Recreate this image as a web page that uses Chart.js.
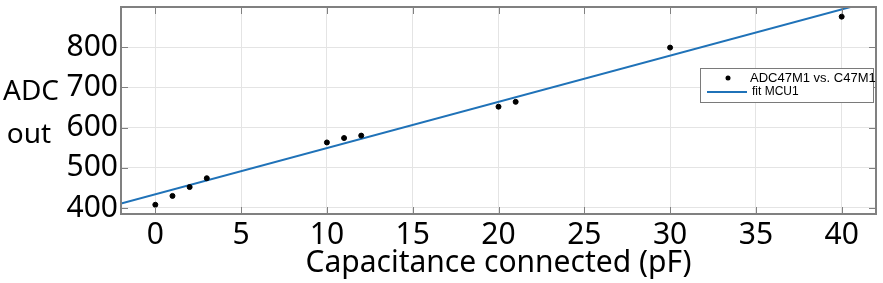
<!DOCTYPE html>
<html>
<head>
<meta charset="utf-8">
<script src="https://cdn.jsdelivr.net/npm/chart.js@4"></script>
<style>
    body { margin: 0; background: #fff; }
    #wrap { width: 883px; height: 283px; }
</style>
</head>
<body>
<div id="wrap"><canvas id="adcChart" width="883" height="283"></canvas></div>
<script>
// measured points (capacitance in pF, ADC reading)
const capValues = [0, 1, 2, 3, 10, 11, 12, 20, 21, 30, 40];
const adcValues = [408, 430, 452, 474, 563, 574, 580, 652, 664, 799, 876];

const fitX = [-2, 42];
const fitY = [411, 917];

const xTicks = [0, 5, 10, 15, 20, 25, 30, 35, 40];
const yTicks = [400, 500, 600, 700, 800];

const legendLabels = ['ADC47M1 vs. C47M1', 'fit MCU1'];
const yTitleLines = ['ADC', 'out'];
const xTitle = 'Capacitance connected (pF)';

const FRAME = '#808080';
const BLUE = '#1f72b8';
const FONT = '"Noto Sans", "Open Sans", sans-serif';

// frame, inner tick marks, horizontal y title and the boxed legend
const decorPlugin = {
    id: 'decor',
    afterDraw(chart) {
        const ctx = chart.ctx;
        const a = chart.chartArea;
        const xs = chart.scales.x, ys = chart.scales.y;
        ctx.save();

        ctx.strokeStyle = FRAME;
        ctx.lineWidth = 1;
        xTicks.forEach(v => {
            const px = Math.round(xs.getPixelForValue(v)) + 0.5;
            ctx.beginPath();
            ctx.moveTo(px, a.bottom); ctx.lineTo(px, a.bottom - 7);
            ctx.moveTo(px, a.top); ctx.lineTo(px, a.top + 7);
            ctx.stroke();
        });
        yTicks.forEach(v => {
            const py = Math.round(ys.getPixelForValue(v)) + 0.5;
            ctx.beginPath();
            ctx.moveTo(a.left, py); ctx.lineTo(a.left + 7, py);
            ctx.moveTo(a.right, py); ctx.lineTo(a.right - 7, py);
            ctx.stroke();
        });

        ctx.lineWidth = 2;
        ctx.strokeRect(a.left, a.top, a.right - a.left, a.bottom - a.top);

        // y axis title written flat, two lines
        ctx.fillStyle = '#000';
        ctx.font = '28px ' + FONT;
        ctx.textAlign = 'center';
        ctx.textBaseline = 'alphabetic';
        ctx.fillText(yTitleLines[0], 31, 100);
        ctx.fillText(yTitleLines[1], 29, 143);

        // legend box
        const lx = 700, ly = 68, lw = 173, lh = 34;
        ctx.fillStyle = '#fff';
        ctx.fillRect(lx, ly, lw, lh);
        ctx.strokeStyle = '#7a7a7a';
        ctx.lineWidth = 1;
        ctx.strokeRect(lx + 0.5, ly + 0.5, lw, lh);

        ctx.fillStyle = '#000';
        ctx.beginPath();
        ctx.arc(728, 78, 2.5, 0, Math.PI * 2);
        ctx.fill();
        ctx.strokeStyle = BLUE;
        ctx.lineWidth = 2;
        ctx.beginPath();
        ctx.moveTo(707, 92); ctx.lineTo(747, 92);
        ctx.stroke();

        ctx.fillStyle = '#000';
        ctx.textAlign = 'left';
        ctx.textBaseline = 'middle';
        ctx.font = '13px "Liberation Sans", Arial, sans-serif';
        ctx.fillText(legendLabels[0], 750, 78);
        ctx.font = '12px "Liberation Sans", Arial, sans-serif';
        ctx.fillText(legendLabels[1], 752, 92);
        ctx.restore();
    }
};

const ctx = document.getElementById('adcChart');
new Chart(ctx, {
    type: 'scatter',
    data: {
        datasets: [{
            label: legendLabels[0],
            data: capValues.map((c, i) => ({ x: c, y: adcValues[i] })),
            backgroundColor: '#000',
            borderColor: '#000',
            pointRadius: 2.5,
            pointHoverRadius: 2.5,
            order: 1
        }, {
            label: legendLabels[1],
            type: 'line',
            data: fitX.map((c, i) => ({ x: c, y: fitY[i] })),
            borderColor: BLUE,
            borderWidth: 2,
            pointRadius: 0,
            fill: false,
            order: 2
        }]
    },
    options: {
        responsive: false,
        animation: false,
        layout: { padding: { top: 7, right: 7, left: 0, bottom: 0 } },
        plugins: {
            legend: { display: false },
            tooltip: { enabled: false }
        },
        scales: {
            x: {
                type: 'linear',
                min: -2,
                max: 42,
                afterBuildTicks: s => { s.ticks = xTicks.map(v => ({ value: v })); },
                afterFit: s => { s.height = 69; s.paddingLeft = 0; s.paddingRight = 0; },
                grid: { color: '#e4e4e4', drawTicks: false },
                border: { display: false },
                ticks: {
                    color: '#000',
                    padding: 3,
                    font: { family: FONT, size: 30 }
                },
                title: {
                    display: true,
                    text: xTitle,
                    color: '#000',
                    padding: { top: 0, bottom: 2 },
                    font: { family: FONT, size: 30 }
                }
            },
            y: {
                min: 385,
                max: 900,
                afterBuildTicks: s => { s.ticks = yTicks.map(v => ({ value: v })); },
                afterFit: s => { s.width = 121; s.paddingTop = 0; s.paddingBottom = 0; },
                grid: { color: '#e4e4e4', drawTicks: false },
                border: { display: false },
                ticks: {
                    color: '#000',
                    padding: 3,
                    font: { family: FONT, size: 30 }
                }
            }
        }
    },
    plugins: [decorPlugin]
});
</script>
</body>
</html>
